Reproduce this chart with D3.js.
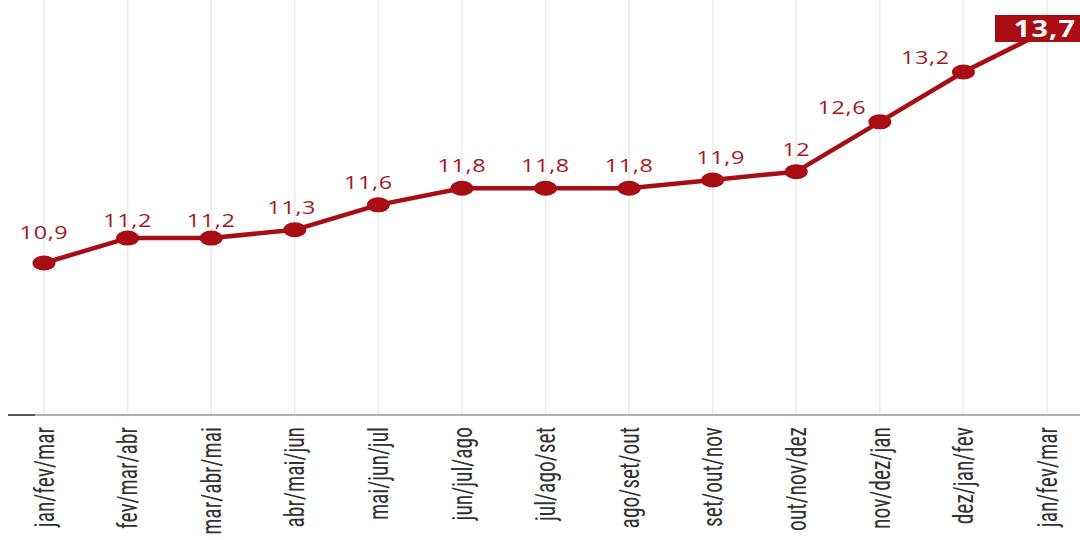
<!DOCTYPE html>
<html><head><meta charset="utf-8">
<script src="https://cdn.jsdelivr.net/npm/d3@7"></script>
<style>html,body{margin:0;padding:0;background:#fff;overflow:hidden}</style>
</head><body>
<svg id="c" width="1080" height="540"></svg>
<script>
const categories = ["jan/fev/mar","fev/mar/abr","mar/abr/mai","abr/mai/jun","mai/jun/jul","jun/jul/ago","jul/ago/set","ago/set/out","set/out/nov","out/nov/dez","nov/dez/jan","dez/jan/fev","jan/fev/mar "];
const values = [10.9,11.2,11.2,11.3,11.6,11.8,11.8,11.8,11.9,12,12.6,13.2,13.7];
const valueLabels = ["10,9","11,2","11,2","11,3","11,6","11,8","11,8","11,8","11,9","12","12,6","13,2","13,7"];

const svg = d3.select("#c");
const red = "#a80d14";
const x = d3.scalePoint().domain(categories).range([44, 1047]);
const y = d3.scaleLinear().domain([10.9, 13.2]).range([263, 72]);
const baseY = 415;

// gridlines
svg.append("g").selectAll("line").data(categories).join("line")
  .attr("x1", d => x(d)).attr("x2", d => x(d))
  .attr("y1", 0).attr("y2", baseY)
  .attr("stroke", "#ebebeb").attr("stroke-width", 1.5);

// baseline
svg.append("line").attr("x1", 8).attr("x2", 1080).attr("y1", baseY).attr("y2", baseY)
  .attr("stroke", "#b0b0b0").attr("stroke-width", 2);
svg.append("line").attr("x1", 8).attr("x2", 35).attr("y1", baseY).attr("y2", baseY)
  .attr("stroke", "#555").attr("stroke-width", 2);

// x labels
svg.append("g").selectAll("text").data(categories).join("text")
  .attr("transform", d => `translate(${x(d)},${baseY + 12}) rotate(-90) scale(1,1.25)`)
  .attr("text-anchor", "end").attr("dy", "0.36em")
  .attr("font-family", "'Roboto Condensed','Liberation Sans Narrow',Roboto,sans-serif")
  .attr("font-size", 21.5).attr("fill", "#333")
  .text(d => d.trim());

// line
const pts = categories.map((c, i) => [x(c), y(values[i])]);
svg.append("path").attr("d", d3.line()(pts))
  .attr("fill", "none").attr("stroke", red).attr("stroke-width", 4.5).attr("stroke-linejoin", "round");

// points
svg.append("g").selectAll("ellipse").data(pts.slice(0, -1)).join("ellipse")
  .attr("cx", d => d[0]).attr("cy", d => d[1]).attr("rx", 11.5).attr("ry", 7.5).attr("fill", red);

// value labels
svg.append("g").selectAll("text").data(values.slice(0, -1)).join("text")
  .attr("transform", (v, i) => {
    const steep = i > 0 && v - values[i - 1] >= 0.5;
    const first = i === 0;
    const dx = steep ? -38 : (i === 4 ? -10 : (i === 8 ? 8 : (i === 3 ? -3 : 0)));
    const dy = steep ? 8 : (first ? 24 : (i === 1 || i === 2 ? 11 : 16));
    return `translate(${pts[i][0] + dx},${pts[i][1] - dy}) scale(1.3,1)`;
  })
  .attr("text-anchor", "middle")
  .attr("font-family", "'Open Sans',sans-serif").attr("font-size", 18)
  .attr("letter-spacing", 0.5)
  .attr("fill", "#a3181e")
  .text((v, i) => valueLabels[i]);

// highlighted last label
const last = pts[values.length - 1];
svg.append("rect").attr("x", last[0] - 52).attr("y", 15).attr("width", 110).attr("height", 27).attr("fill", red);
svg.append("text").attr("transform", `translate(${last[0] - 2},37) scale(1.2,1)`).attr("text-anchor", "middle")
  .attr("font-family", "'Open Sans',sans-serif").attr("font-weight", "bold").attr("font-size", 24)
  .attr("letter-spacing", 1)
  .attr("fill", "#fff").text(valueLabels[values.length - 1]);
</script>
</body></html>
